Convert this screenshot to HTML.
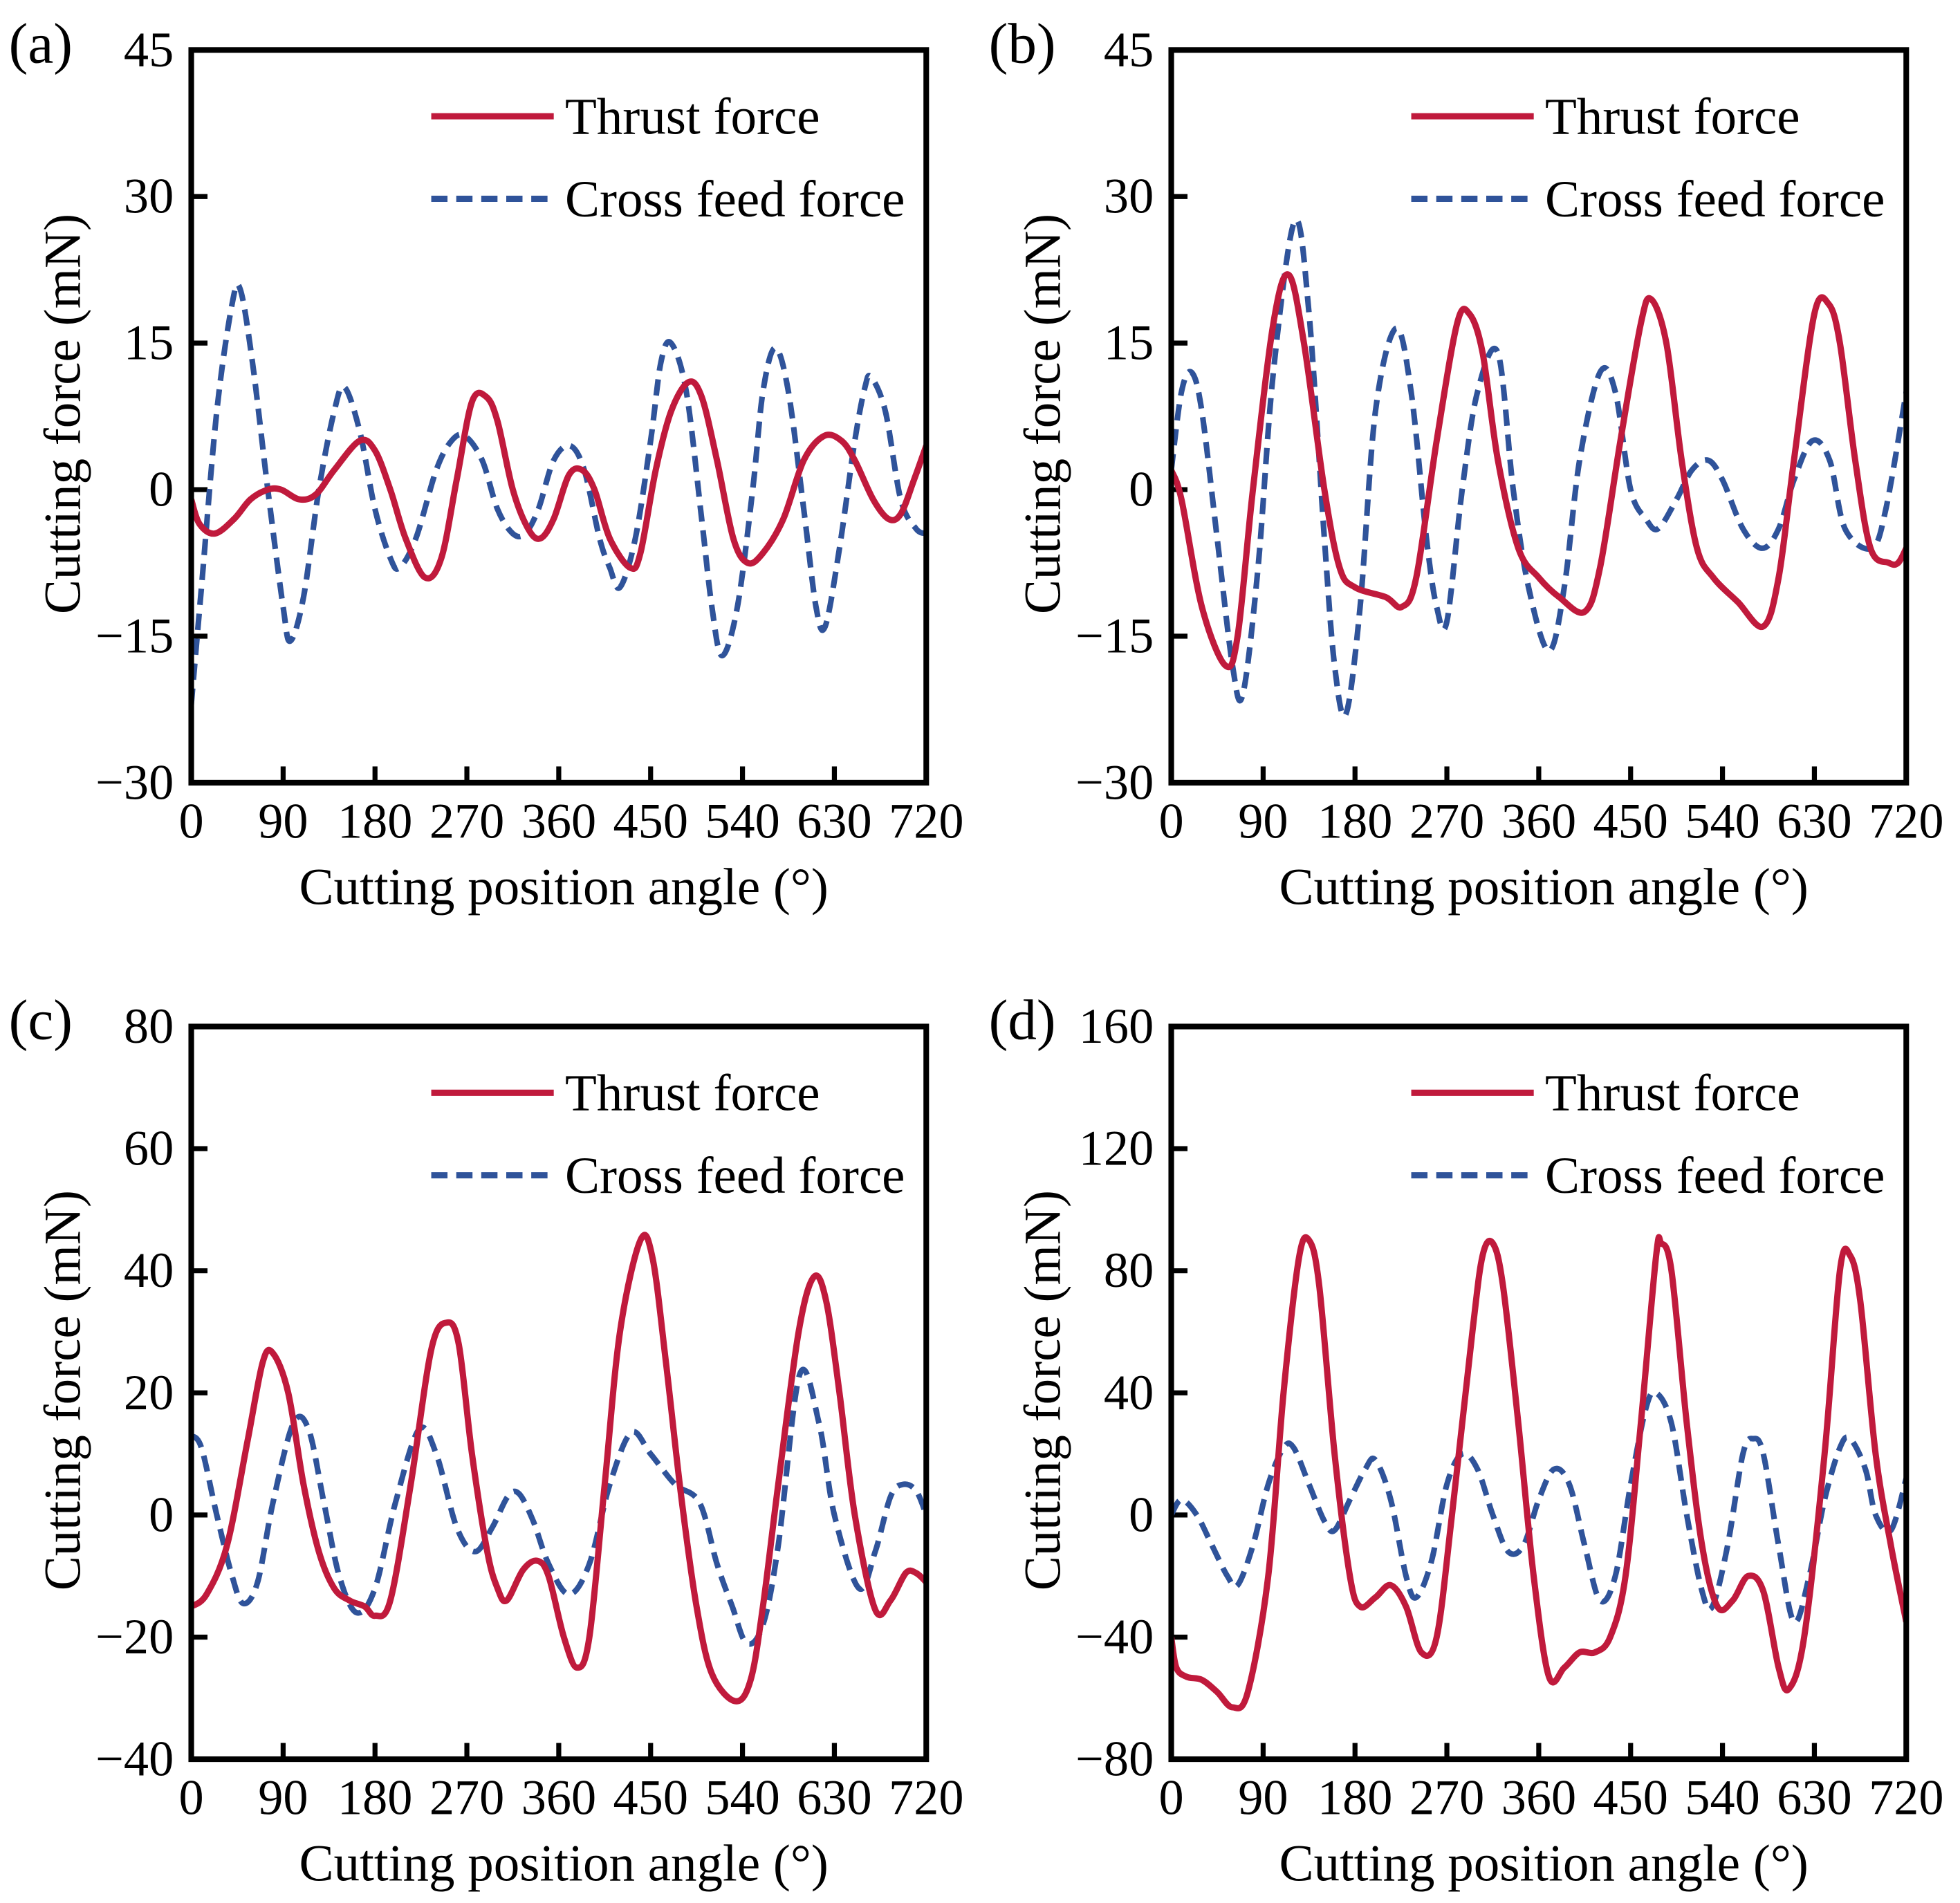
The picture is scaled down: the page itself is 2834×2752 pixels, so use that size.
<!DOCTYPE html>
<html><head><meta charset="utf-8"><style>
html,body{margin:0;padding:0;background:#fff}
svg{display:block}
text{font-family:"Liberation Serif",serif;fill:#000}
</style></head><body>
<svg id="fig" width="2834" height="2752" viewBox="0 0 1568 1522" preserveAspectRatio="none" xmlns="http://www.w3.org/2000/svg"></svg>
<script>
// Panel (a)
const aThrustAng=[0,8,23,42,58,75,88,106,122,140,165,180,195,210,229,245,260,275,289,300,315,330,342,355,370,383,395,410,430,440,455,470,487,500,515,531,545,560,580,600,620,637,650,668,683,695,708,720];
const aThrustVal=[-1,-3.5,-4.5,-3,-1,0,0,-1,-0.5,2,5,4,0,-5,-9,-7,1,9,9.5,7,0,-4,-5,-3,1.5,2,0,-5,-8,-6.5,2,8,11,9.5,3,-5,-7.5,-6.5,-3,3,5.5,5,3,-1,-3,-2.5,1,4.5];
const aCrossAng=[0,10,25,40,48,60,75,90,97,110,125,140,150,165,180,195,204,220,240,255,268,285,300,315,327,340,355,371,385,400,410,420,435,450,460,470,485,500,510,520,535,550,560,572,585,600,612,621,635,650,660,666,680,695,710,720];
const aCrossVal=[-22,-10,8,19,20.5,13,0,-12,-15.5,-11,0,8,10.5,6,-2,-7,-8,-5,2,5,5.5,3,-2,-4.5,-4.5,-2,3,4.5,2,-5,-8,-10,-5,5,13,15,10,-3,-12,-17,-12,0,10,14.5,10,-2,-12,-14,-6,5,10.5,11.5,8,-1,-4,-4.5];
// Panel (b)
const bThrustAng=[0,10,30,53,65,80,100,115,130,150,165,180,210,226,240,260,280,292,305,320,340,360,380,405,420,440,460,470,485,500,515,531,555,580,595,610,630,644,655,670,685,703,712,720];
const bThrustVal=[2,-1,-12,-18,-15,0,17,22,15,0,-8,-10,-11,-12,-9,5,17,18,14,3,-6,-9,-11,-12.5,-8,5,17,19.5,15,3,-6,-9,-11.5,-14,-9,3,18,19,15,3,-6,-7.5,-7.5,-6];
const bCrossAng=[0,10,20,30,45,60,70,85,100,121,135,150,160,171,185,200,220,235,250,260,270,285,300,320,335,350,370,385,400,420,435,450,465,477,495,510,526,540,560,579,595,610,628,645,660,686,700,720];
const bCrossVal=[2,10,12,8,-5,-18,-21,-8,12,27.5,18,-5,-18,-23,-12,8,16.5,10,-5,-12,-13.5,0,10,14,0,-10,-16.5,-10,3,12,10,0,-3,-4,-1,2,3,1,-4,-6,-4,1,5,3,-4,-6,-2,10];
// Panel (c)
const cThrustAng=[0,15,35,55,70,80,95,110,125,140,155,170,180,195,215,235,250,262,275,290,300,309,325,339,350,365,378,390,405,420,440,452,465,480,495,510,533,548,560,575,595,610,622,635,650,670,685,700,710,720];
const cThrustVal=[-15,-13,-5,12,25,26.5,20,5,-6,-12,-14,-15,-16.5,-14,5,27,31.5,28,10,-6,-12,-14,-9,-7.5,-10,-20,-25,-20,5,30,45,42,25,3,-15,-26,-30.5,-27,-15,5,30,39,35,20,0,-15.5,-14,-9.5,-9.5,-11];
const cCrossAng=[0,10,25,40,51,65,80,100,115,130,145,162,180,200,223,240,260,278,295,310,321,335,350,370,390,410,431,450,474,498,515,530,544,560,575,596,615,630,654,670,685,697,710,720];
const cCrossVal=[13,11,0,-10,-14.5,-11,2,15,14,2,-10,-16,-12,2,14,10,-2,-6,-2,3,3.5,-1,-8,-13,-8,5,13.5,10,5,2,-8,-15,-21,-18,-5,23,15,0,-12,-6,3,5,4,0];
// Panel (d)
const dThrustAng=[0,5,15,30,45,60,75,95,110,125,135,145,160,175,185,200,215,230,245,260,275,295,305,315,325,340,355,370,385,400,415,430,445,460,475,480,490,505,520,535,550,565,580,595,605,620,640,655,665,675,690,705,720];
const dThrustVal=[-40,-50,-53,-54,-58,-63,-58,-20,40,84,90,75,20,-20,-30,-27,-23,-30,-45,-40,0,60,85,89,75,30,-20,-53,-50,-45,-45,-40,-20,30,85,89,80,30,-10,-30,-28,-20,-25,-50,-57,-40,20,80,85,70,20,-10,-35];
const dCrossAng=[0,10,25,40,55,65,80,95,110,120,135,150,160,175,190,200,215,230,240,255,270,285,300,315,330,345,360,375,390,405,420,435,450,465,475,490,505,520,530,545,560,570,580,595,610,625,640,655,665,680,690,705,720];
const dCrossVal=[0,5,0,-10,-20,-23,-10,10,22,22,10,-2,-5,5,15,18,5,-20,-27,-15,10,20,15,0,-12,-10,5,15,10,-10,-28,-20,10,35,40,30,0,-25,-30,-10,20,25,20,-10,-35,-20,5,22,25,15,0,-5,12];

const xTicks=[0,90,180,270,360,450,540,630,720];
const yTicksA=[-30,-15,0,15,30,45];
const yTicksC=[-40,-20,0,20,40,60,80];
const yTicksD=[-80,-40,0,40,80,120,160];

const NS='http://www.w3.org/2000/svg';
const svg=document.getElementById('fig');
function mk(tag,attrs,parent){const e=document.createElementNS(NS,tag);for(const k in attrs)e.setAttribute(k,attrs[k]);(parent||svg).appendChild(e);return e;}
function fmt(v){return v<0?'\u2212'+(-v):String(v);}
function smooth(pts){
  let d='M'+pts[0][0]+','+pts[0][1];
  for(let i=0;i<pts.length-1;i++){
    const p0=pts[i-1]||pts[i],p1=pts[i],p2=pts[i+1],p3=pts[i+2]||p2;
    const c1=[p1[0]+(p2[0]-p0[0])/6,p1[1]+(p2[1]-p0[1])/6];
    const c2=[p2[0]-(p3[0]-p1[0])/6,p2[1]-(p3[1]-p1[1])/6];
    d+=' C'+c1[0]+','+c1[1]+' '+c2[0]+','+c2[1]+' '+p2[0]+','+p2[1];
  }
  return d;
}
function panel(id,label,x0,y0,yTicks,tA,tV,cA,cV){
  const W=588,H=586;
  const g=mk('g',{});
  
  
  const ymin=yTicks[0],ymax=yTicks[yTicks.length-1];
  const X=a=>x0+a/720*W;
  const Y=v=>y0+H-(v-ymin)/(ymax-ymin)*H;
  const clip=mk('clipPath',{id:'clip-'+id},g);
  mk('rect',{x:x0,y:y0,width:W,height:H},clip);
  const pl=mk('text',{x:x0-146,y:y0+10,'font-size':46},g);
  pl.textContent='('+id+')';
  
  
  xTicks.forEach(t=>{
    const tk=mk('line',{x1:X(t),x2:X(t),y1:y0+H,y2:y0+H-13,stroke:'#000','stroke-width':4},g);
    
    
    const tl=mk('text',{x:X(t),y:y0+H+44,'font-size':40,'text-anchor':'middle'},g);
    tl.textContent=t;
    
    
  });
  yTicks.forEach(t=>{
    const tk=mk('line',{x1:x0,x2:x0+13,y1:Y(t),y2:Y(t),stroke:'#000','stroke-width':4},g);
    
    
    const tl=mk('text',{x:x0-14,y:Y(t)+13,'font-size':40,'text-anchor':'end'},g);
    tl.textContent=fmt(t);
    
    
  });
  const yt=mk('text',{x:0,y:0,'font-size':41.5,'text-anchor':'middle',transform:'translate('+(x0-89)+','+(y0+H/2-2)+') rotate(-90)'},g);
  yt.textContent='Cutting force (mN)';
  
  
  const xt=mk('text',{x:x0+W/2+4,y:y0+H+97,'font-size':41.5,'text-anchor':'middle'},g);
  xt.textContent='Cutting position angle (\u00b0)';
  
  
  const cp=mk('path',{d:smooth(cA.map((a,i)=>[X(a),Y(cV[i])])),fill:'none',stroke:'#2f539a','stroke-width':4.5,'stroke-dasharray':'13,7','clip-path':'url(#clip-'+id+')'},g);
  
  
  const tp=mk('path',{d:smooth(tA.map((a,i)=>[X(a),Y(tV[i])])),fill:'none',stroke:'#c01a3c','stroke-width':5,'clip-path':'url(#clip-'+id+')'},g);
  
  
  const lg=mk('g',{},g);
  
  
  mk('line',{x1:x0+192,x2:x0+290,y1:y0+53,y2:y0+53,stroke:'#c01a3c','stroke-width':5},lg);
  const l1=mk('text',{x:x0+299,y:y0+67,'font-size':41.5},lg);
  l1.textContent='Thrust force';
  
  
  mk('line',{x1:x0+192,x2:x0+290,y1:y0+119,y2:y0+119,stroke:'#2f539a','stroke-width':5,'stroke-dasharray':'13,7'},lg);
  const l2=mk('text',{x:x0+299,y:y0+133,'font-size':41.5},lg);
  l2.textContent='Cross feed force';
  
  
  const fr=mk('rect',{x:x0,y:y0,width:W,height:H,fill:'none',stroke:'#000','stroke-width':4.5},g);
  
  
}
panel('a','a',153,40,yTicksA,aThrustAng,aThrustVal,aCrossAng,aCrossVal);
panel('b','b',937,40,yTicksA,bThrustAng,bThrustVal,bCrossAng,bCrossVal);
panel('c','c',153,821,yTicksC,cThrustAng,cThrustVal,cCrossAng,cCrossVal);
panel('d','d',937,821,yTicksD,dThrustAng,dThrustVal,dCrossAng,dCrossVal);
</script>
</body></html>
